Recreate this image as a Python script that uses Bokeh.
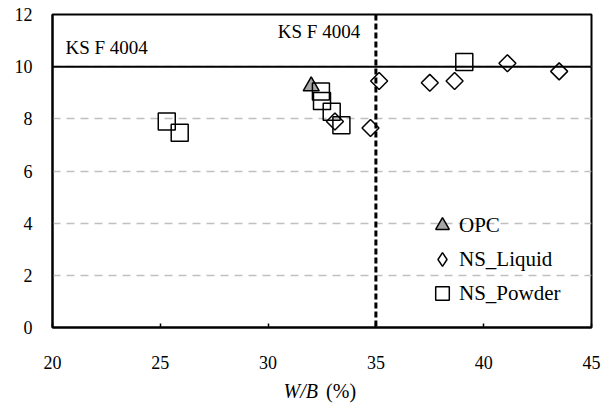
import numpy as np
from bokeh.plotting import figure
from bokeh.layouts import column
from bokeh.models import Range1d, FixedTicker, Span, Label, Legend, LegendItem
from bokeh.embed import file_html
from bokeh.resources import INLINE

# ---- data ----
opc_wb = [32.0]
opc_val = [9.25]

liquid_wb = [33.1, 34.75, 35.15, 37.5, 38.65, 41.1, 43.5]
liquid_val = [7.9, 7.65, 9.45, 9.38, 9.45, 10.13, 9.82]

powder_wb = [25.3, 25.9, 32.45, 32.5, 32.95, 33.4, 39.1]
powder_val = [7.9, 7.47, 9.05, 8.68, 8.27, 7.75, 10.18]

x_ticks = [20, 25, 30, 35, 40, 45]
y_ticks = [0, 2, 4, 6, 8, 10, 12]
ks_strength = 10
ks_wb = 35

FONT = "'Liberation Serif'"

xr = Range1d(20, 45)
p = figure(width=612, height=377, output_backend="svg", toolbar_location=None,
           x_range=xr, y_range=Range1d(0, 12),
           min_border_left=52, min_border_right=21, min_border_top=14, min_border_bottom=50)
p.background_fill_color = "white"
p.border_fill_color = "white"
p.outline_line_color = "black"
p.outline_line_width = 2

p.xaxis.ticker = FixedTicker(ticks=x_ticks)
p.yaxis.ticker = FixedTicker(ticks=y_ticks)
for ax in (p.xaxis, p.yaxis):
    ax.axis_line_color = "black"
    ax.axis_line_width = 2
    ax.minor_tick_line_color = None
    ax.major_label_text_font = FONT
    ax.major_label_text_font_size = "18px"
    ax.major_label_text_color = "black"
p.xaxis.major_tick_in = 4
p.xaxis.major_tick_out = 0
p.xaxis.major_tick_line_color = "black"
p.xaxis.major_tick_line_width = 1.5
p.xaxis.major_label_standoff = 28
p.yaxis.major_tick_line_color = None
p.yaxis.major_tick_in = 0
p.yaxis.major_tick_out = 0
p.yaxis.major_label_standoff = 20

p.xgrid.grid_line_color = None
p.ygrid.grid_line_color = "#c0c0c0"
p.ygrid.grid_line_dash = "8 6"
p.ygrid.grid_line_width = 1.5

p.add_layout(Span(location=ks_strength, dimension="width", line_color="black", line_width=2))
p.add_layout(Span(location=ks_wb, dimension="height", line_color="black", line_width=3, line_dash="6 3"))

r_opc = p.scatter(opc_wb, opc_val, marker="triangle", size=16, fill_color="#a6a6a6",
                  line_color="black", line_width=1.5)
r_liq = p.scatter(liquid_wb, liquid_val, marker="square", angle=np.pi / 4, size=12,
                  fill_color=None, line_color="black", line_width=1.5)
r_pow = p.scatter(powder_wb, powder_val, marker="square", size=17,
                  fill_color=None, line_color="black", line_width=1.5)
# hidden renderer used only for the legend swatch (legend does not rotate markers)
r_liq_leg = p.scatter(liquid_wb, liquid_val, marker="diamond", size=16, visible=False,
                      fill_color=None, line_color="black", line_width=1.5)

p.add_layout(Label(x=20.6, y=10.74, text="KS F 4004", text_font=FONT, text_font_size="19px",
                   text_baseline="middle", text_align="left", text_color="black"))
p.add_layout(Label(x=30.45, y=11.36, text="KS F 4004", text_font=FONT, text_font_size="19px",
                   text_baseline="middle", text_align="left", text_color="black"))

legend = Legend(items=[LegendItem(label="OPC", renderers=[r_opc]),
                       LegendItem(label="NS_Liquid", renderers=[r_liq_leg]),
                       LegendItem(label="NS_Powder", renderers=[r_pow])],
                location=(373, 17), glyph_width=34, glyph_height=34, spacing=0,
                padding=10, label_standoff=0, border_line_color=None,
                background_fill_alpha=0, inactive_fill_alpha=0, label_text_font=FONT,
                label_text_font_size="21px", label_text_color="black")
p.add_layout(legend)

# caption strip holding the x-axis title (italic W/B + upright (%))
cap = figure(width=612, height=26, output_backend="svg", toolbar_location=None,
             x_range=xr, y_range=Range1d(0, 1),
             min_border_left=52, min_border_right=21, min_border_top=0, min_border_bottom=0)
cap.axis.visible = False
cap.grid.visible = False
cap.outline_line_color = None
cap.background_fill_color = "white"
cap.border_fill_color = "white"
cap.add_layout(Label(x=32.31, y=0.5, text="W/B", text_font=FONT, text_font_size="20px",
                     text_font_style="italic", text_baseline="middle", text_align="right",
                     text_color="black"))
cap.add_layout(Label(x=32.69, y=0.5, text="(%)", text_font=FONT, text_font_size="20px",
                     text_baseline="middle", text_align="left", text_color="black"))

layout = column(p, cap, spacing=0)
open("out.html", "w").write(file_html(layout, INLINE))
